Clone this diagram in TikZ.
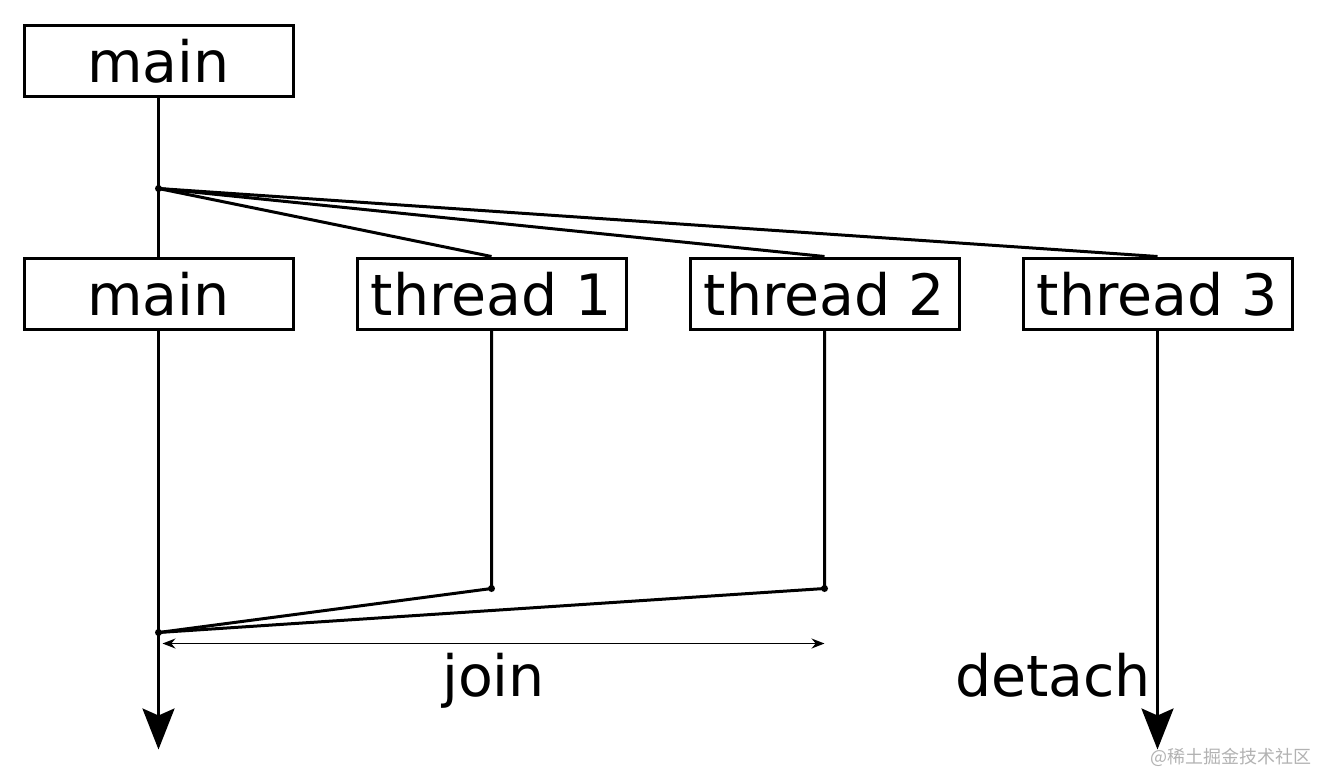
\documentclass[tikz,border=0pt]{standalone}
\usepackage{fontspec}
\setmainfont{DejaVu Sans}
\newfontfamily\cjk{Noto Sans CJK SC}
\usetikzlibrary{arrows.meta,positioning}
\tikzset{
    %Define standard arrow tip
    >={Stealth[length=20.5pt,width=16pt,inset=3.5pt]},
    %Define style for boxes
    thrbox/.style={
           rectangle,
           draw=black, line width=1.5pt,
           minimum width=134.5pt,
           minimum height=35.5pt,
           inner sep=0pt,
           text height=21.7pt, text depth=0pt,
           font=\fontsize{28.5}{34}\selectfont,
           text centered},
    lbl/.style={
           inner sep=0pt,
           font=\fontsize{28.5}{34}\selectfont},
    % Define line styles
    life/.style={line width=1.5pt},
    span/.style={
           line width=.75pt,
           {Stealth[length=6.5pt,width=5pt]}-{Stealth[length=6.5pt,width=5pt]}}
}
\begin{document}
\begin{tikzpicture}[x=0.5pt,y=-0.5pt,node distance=79.5pt and 30.5pt]
\useasboundingbox (0,0) rectangle (1318,773);

 %nodes
\node[thrbox] (m1) at (158.5,60.5) {main};
\node[thrbox, below=of m1] (m2) {main};
\node[thrbox, right=of m2] (t1) {thread 1};
\node[thrbox, right=of t1] (t2) {thread 2};
\node[thrbox, right=of t2] (t3) {thread 3};

 %points
\coordinate[below=45.5pt of m1.south] (fork);
\coordinate[below=129pt of t1.south] (t1end);
\coordinate[below=129pt of t2.south] (t2end);
\coordinate[below=151pt of m2.south] (joinpt);
\coordinate[below=209.5pt of m2.south] (mtip);
\coordinate[below=209.5pt of t3.south] (t3tip);
\coordinate[below right=5.5pt and 2pt of joinpt] (jleft);
\coordinate (jright) at (t2end |- jleft);

 %lines
\draw[life] (m1) -- (fork) -- (m2);
\draw[life] (fork) -- (t1.north);
\draw[life] (fork) -- (t2.north);
\draw[life] (fork) -- (t3.north);
\draw[life] (t1) -- (t1end) -- (joinpt);
\draw[life] (t2) -- (t2end) -- (joinpt);
\draw[life,->] (m2) -- (mtip);
\draw[life,->] (t3) -- (t3tip);
\draw[span] (jleft) -- (jright);
\foreach \p in {fork,t1end,t2end,joinpt}
    \fill (\p) circle (1.75pt);

 %labels
\path (jleft) -- node[lbl, anchor=base, yshift=-26.5pt] (joinlbl) {join} (jright);
\node[lbl, anchor=base east, xshift=-3pt] (detachlbl) at (t3.south |- joinlbl.base) {detach};
\node[anchor=south east, inner sep=0pt, text=black!30,
      font=\cjk\fontsize{9}{11}\selectfont] (wm) at (1312,767) {@稀土掘金技术社区};

\end{tikzpicture}
\end{document}
